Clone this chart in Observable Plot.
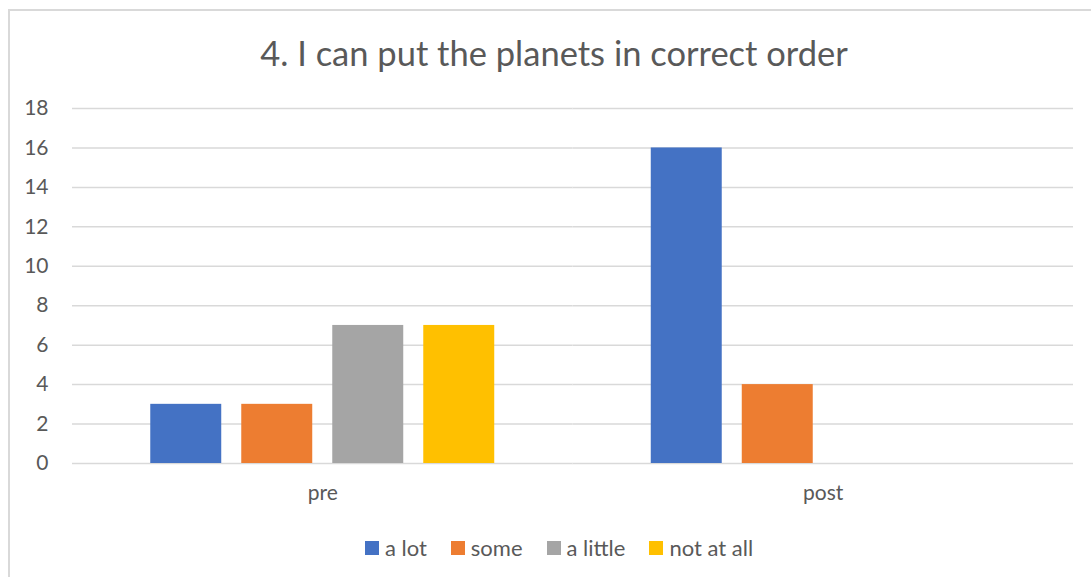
<!DOCTYPE html>
<html>
<head>
<meta charset="utf-8">
<script src="https://cdn.jsdelivr.net/npm/d3@7"></script>
<script src="https://cdn.jsdelivr.net/npm/@observablehq/plot@0.6"></script>
<style>
html, body { margin: 0; padding: 0; overflow: hidden; width: 1091px; height: 577px; background: #fff; }
body { font-family: Lato, "Liberation Sans", sans-serif; color: #595959; position: relative; }
#frame { position: absolute; left: 8px; top: 9px; width: 1100px; height: 620px; border: 2px solid #d9d9d9; box-sizing: border-box; }
#title { position: absolute; left: 8px; width: 1092px; top: 33px; text-align: center; font-size: 34.5px; line-height: 40px; color: #595959; white-space: nowrap; }
#chart { position: absolute; left: 0; top: 90px; }
#legend { position: absolute; left: 13px; width: 1092px; top: 533px; display: flex; justify-content: center; align-items: center; font-size: 22px; line-height: 30px; color: #595959; }
.item { display: flex; align-items: center; margin: 0 12px; }
.sw { width: 14px; height: 14px; margin-right: 6px; }
</style>
</head>
<body>
<div id="frame"></div>
<div id="title">4. I can put the planets in correct order</div>
<div id="chart"></div>
<div id="legend"></div>
<script>
const groups = ["pre", "post"];
const series = ["a lot", "some", "a little", "not at all"];
const preValues = [3, 3, 7, 7];
const postValues = [16, 4, 0, 0];
const colors = ["#4472C4", "#ED7D31", "#A5A5A5", "#FFC000"];
const yTicks = [0, 2, 4, 6, 8, 10, 12, 14, 16, 18];

const data = [];
series.forEach((s, i) => data.push({group: "pre", series: s, value: preValues[i]}));
series.forEach((s, i) => data.push({group: "post", series: s, value: postValues[i]}));

const chart = Plot.plot({
  width: 1091,
  height: 430,
  marginLeft: 72,
  marginRight: 18,
  marginTop: 18,
  marginBottom: 57,
  style: {background: "transparent", fontFamily: "Lato, 'Liberation Sans', sans-serif", color: "#595959"},
  fx: {domain: groups, padding: 0, round: false, label: null},
  x: {domain: series, paddingInner: 0.22, paddingOuter: 0.86, round: false, axis: null},
  y: {domain: [0, 18], axis: null},
  color: {domain: series, range: colors},
  marks: [
    Plot.ruleY(yTicks, {stroke: "#d9d9d9", strokeWidth: 1.5}),
    Plot.barY(data, {fx: "group", x: "series", y: "value", fill: "series"}),
    Plot.axisY(yTicks, {tickSize: 0, tickPadding: 24, fontSize: 21, fill: "#595959", label: null}),
    Plot.axisFx({anchor: "bottom", tickSize: 0, tickPadding: 22, fontSize: 21, fill: "#595959", label: null})
  ]
});
document.getElementById("chart").appendChild(chart);

const legend = document.getElementById("legend");
series.forEach((s, i) => {
  const item = document.createElement("div");
  item.className = "item";
  const sw = document.createElement("div");
  sw.className = "sw";
  sw.style.background = colors[i];
  const t = document.createElement("span");
  t.textContent = s;
  item.appendChild(sw);
  item.appendChild(t);
  legend.appendChild(item);
});
</script>
</body>
</html>
